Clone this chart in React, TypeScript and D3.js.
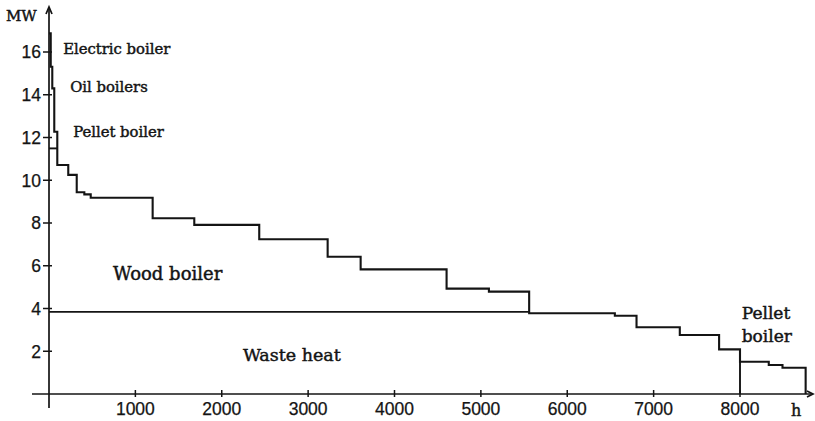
import React from 'react';
import * as d3 from 'd3';

// load duration curve: breakpoints (h) and the load held from each one (MW)
const durationHours = [0, 20, 38, 61, 96, 223, 321, 409, 483, 1200, 1682, 2434, 3226, 3608, 4603, 5093, 5559, 6551, 6802, 7303, 7758, 8000, 8333, 8492, 8760];
const loadMW = [16.87, 15.31, 14.3, 12.27, 10.71, 10.25, 9.44, 9.34, 9.18, 8.22, 7.91, 7.24, 6.42, 5.83, 4.93, 4.79, 3.78, 3.66, 3.12, 2.76, 2.09, 1.51, 1.36, 1.23, 0];

// capacity borders between the units
const wasteHeatMW = 3.84;
const wasteHeatUntil = 5559;
const pelletTopMW = 11.49;
const pelletTopUntil = 96;
const pelletSplitHour = 8000;
const pelletSplitMW = 2.09;

const xTicks = [1000, 2000, 3000, 4000, 5000, 6000, 7000, 8000];
const yTicks = [2, 4, 6, 8, 10, 12, 14, 16];

const unitLabels = [
  { text: 'Electric boiler', h: 165, mw: 15.9, size: 14.8 },
  { text: 'Oil boilers', h: 245, mw: 14.15, size: 14.8 },
  { text: 'Pellet boiler', h: 280, mw: 12.04, size: 14.8 },
  { text: 'Wood boiler', h: 740, mw: 5.33, size: 18 },
  { text: 'Waste heat', h: 2245, mw: 1.55, size: 17.5 },
];

const W = 815;
const H = 421;
const ink = '#141414';

export default function App() {
  const x = d3.scaleLinear().domain([0, 8000]).range([49, 740]);
  const y = d3.scaleLinear().domain([0, 16]).range([394, 52]);

  const pts: [number, number][] = durationHours.map((h, i) => [h, loadMW[i]]);
  const curve = d3.line<[number, number]>()
    .x(d => x(d[0]))
    .y(d => y(d[1]))
    .curve(d3.curveStepAfter)(pts) as string;

  const x0 = x(0);
  const y0 = y(0);
  const xEnd = 813;
  const yTop = 7;

  return (
    <svg width={W} height={H} style={{ position: 'absolute', left: 0, top: 0, background: '#fff' }}>
      {/* axes */}
      <g stroke={ink} strokeWidth={1.7} fill="none">
        <line x1={32} y1={y0} x2={xEnd} y2={y0} />
        <line x1={x0} y1={408} x2={x0} y2={yTop} />
        <polyline points={`${x0 - 3},${yTop + 7} ${x0},${yTop} ${x0 + 3},${yTop + 7}`} />
        <polyline points={`${xEnd - 6},${y0 - 3} ${xEnd},${y0} ${xEnd - 6},${y0 + 3}`} />
      </g>

      <g stroke={ink} strokeWidth={1.5}>
        {xTicks.map(t => (
          <line key={t} x1={x(t)} x2={x(t)} y1={y0 - 4} y2={y0 + 3} />
        ))}
        {yTicks.map(t => (
          <line key={t} x1={x0 - 6} x2={x0 + 3} y1={y(t)} y2={y(t)} />
        ))}
      </g>

      <g fontFamily="'Liberation Sans', Arial, sans-serif" fontSize={17.5} fill={ink} stroke={ink} strokeWidth={0.25}>
        {xTicks.map(t => (
          <text key={t} x={x(t)} y={415} textAnchor="middle">{t}</text>
        ))}
        {yTicks.map(t => (
          <text key={t} x={41} y={y(t)} dy="0.36em" textAnchor="end">{t}</text>
        ))}
      </g>

      {/* curve and unit borders */}
      <path d={curve} fill="none" stroke={ink} strokeWidth={2.1} />
      <g stroke={ink} strokeWidth={1.9}>
        <line x1={x(0)} x2={x(wasteHeatUntil)} y1={y(wasteHeatMW)} y2={y(wasteHeatMW)} />
        <line x1={x(0)} x2={x(pelletTopUntil)} y1={y(pelletTopMW)} y2={y(pelletTopMW)} />
        <line x1={x(pelletSplitHour)} x2={x(pelletSplitHour)} y1={y(0)} y2={y(pelletSplitMW)} />
      </g>

      <g fontFamily="'DejaVu Serif', serif" fill={ink} stroke={ink} strokeWidth={0.45}>
        {unitLabels.map(l => (
          <text key={l.text} x={x(l.h)} y={y(l.mw)} fontSize={l.size}>{l.text}</text>
        ))}
        <text x={x(8020)} y={319} fontSize={17}>Pellet</text>
        <text x={x(8020)} y={341.5} fontSize={17}>boiler</text>
        <text x={6} y={20.5} fontSize={15}>MW</text>
        <text x={791} y={416} fontSize={16}>h</text>
      </g>
    </svg>
  );
}
